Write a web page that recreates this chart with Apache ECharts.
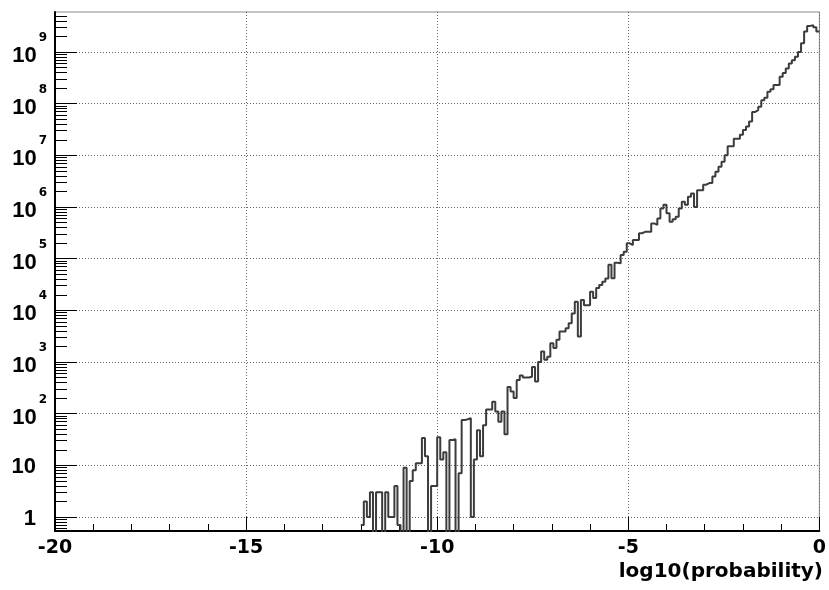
<!DOCTYPE html>
<html>
<head>
<meta charset="utf-8">
<script src="https://cdn.jsdelivr.net/npm/echarts@6/dist/echarts.min.js"></script>
<style>
  html, body { margin: 0; padding: 0; background: #fff; }
  #chart { width: 829px; height: 590px; }
</style>
</head>
<body>
<div id="chart"></div>
<script>
// histogram binning (log10 of probability)
var binStart = -12.0;
var binWidth = 0.08;

// bin contents, from -12.00 up to 0
var counts = [
  0.7, 2, 1, 3, 0, 3, 3, 0, 3, 1,
  1, 4, 0.7, 0, 9, 0, 5, 8, 11, 11,
  34, 15, 0, 4, 4, 35, 13, 18, 0, 31,
  32, 0, 7, 75, 78, 82, 1, 13, 48, 15,
  60, 120, 120, 170, 110, 70, 110, 40, 330, 270,
  200, 450, 550, 500, 500, 520, 800, 420, 1000, 1600,
  1100, 1260, 2300, 1860, 2700, 3900, 3900, 4500, 5600, 8700,
  14700, 3100, 15800, 12600, 12600, 23000, 17400, 27000, 31000, 35800,
  41500, 76000, 42000, 83000, 81000, 118000, 136000, 198000, 183000, 230000,
  230000, 310000, 330000, 330000, 330000, 480000, 450000, 600000, 940000, 1.1e6,
  760000, 520000, 580000, 650000, 940000, 1.26e6, 1.1e6, 1.58e6, 1.83e6, 1.0e6,
  2.1e6, 2.1e6, 2.7e6, 2.9e6, 2.9e6, 3.9e6, 4.8e6, 6.0e6, 7.5e6, 1.0e7,
  1.5e7, 1.5e7, 2.1e7, 2.1e7, 2.5e7, 3.1e7, 3.6e7, 4.5e7, 6.9e7, 7.5e7,
  8.7e7, 1.17e8, 1.3e8, 1.7e8, 1.9e8, 2.3e8, 2.3e8, 3.3e8, 3.9e8, 4.8e8,
  6.0e8, 6.9e8, 8.1e8, 1.0e9, 1.48e9, 2.5e9, 3.2e9, 3.3e9, 3.0e9, 2.5e9
];

// axes
var xMin = -20, xMax = 0, xStep = 5;
var yMin = 0.536, yMax = 5.94e9;
var yTicks = [1, 10, 1e2, 1e3, 1e4, 1e5, 1e6, 1e7, 1e8, 1e9];
var yMinorFactors = [2, 3, 4, 5, 6, 7, 8, 9];
var xTitle = 'log10(probability)';

// empty bins fall below the axis (ROOT draws them down off the frame)
var emptyFloor = 0.05;

var chart = echarts.init(document.getElementById('chart'));

var stepData = [];
for (var i = 0; i < counts.length; i++) {
  var x = Number((binStart + i * binWidth).toFixed(2));
  stepData.push([x, counts[i] > 0 ? counts[i] : emptyFloor]);
}
// close the last bin at its upper edge
stepData.push([xMax, counts[counts.length - 1]]);

var yMinor = [];
for (var d = 0.1; d < yMax; d *= 10) {
  yMinorFactors.forEach(function (f) {
    var v = f * d;
    if (v > yMin && v < yMax) yMinor.push(v);
  });
}

var dotted = { color: '#666', width: 1, type: [1, 2] };
var bold = { fontFamily: 'Liberation Sans', fontWeight: 'bold', color: '#000' };

var option = {
  animation: false,
  title: {
    text: xTitle,
    right: 6,
    top: 562,
    padding: 0,
    textStyle: { fontFamily: 'DejaVu Sans', fontWeight: 'bold', fontSize: 20, color: '#000' }
  },
  grid: {
    left: 55, right: 4, top: 12, bottom: 59,
    show: true, borderColor: '#888', borderWidth: 1
  },
  xAxis: {
    type: 'value',
    min: xMin, max: xMax, interval: xStep,
    axisLine: { onZero: false, lineStyle: { color: '#000', width: 2 } },
    axisTick: { inside: true, length: 14, lineStyle: { color: '#000', width: 1 } },
    minorTick: { show: true, splitNumber: 5, length: 7, lineStyle: { color: '#000', width: 1 } },
    axisLabel: {
      margin: 8, showMinLabel: true, showMaxLabel: true,
      fontFamily: 'DejaVu Sans', fontWeight: 'bold', fontSize: 19, color: '#000'
    },
    splitLine: { show: true, lineStyle: dotted }
  },
  yAxis: [
    {
      type: 'log', logBase: 10, min: yMin, max: yMax, position: 'left',
      axisLine: { onZero: false, lineStyle: { color: '#000', width: 2 } },
      axisTick: { inside: true, length: 22, customValues: yTicks, lineStyle: { color: '#000', width: 1 } },
      axisLabel: {
        customValues: yTicks,
        margin: 8,
        formatter: function (v) {
          var e = Math.round(Math.log10(v));
          if (e === 0) return '{p|1}';
          if (e === 1) return '{p|10}';
          return '{b|10}{s|' + e + '}';
        },
        rich: {
          p: Object.assign({ fontSize: 22, lineHeight: 22, padding: [4, 11, 0, 0] }, bold),
          b: Object.assign({ fontSize: 22, lineHeight: 22, padding: [4, 0, 0, 0], verticalAlign: 'top' }, bold),
          s: { fontFamily: 'DejaVu Sans', fontWeight: 'bold', color: '#000', fontSize: 12, lineHeight: 12,
               padding: [0, 0, 19, 2], verticalAlign: 'bottom' }
        }
      },
      splitLine: { show: true, lineStyle: dotted }
    },
    {
      type: 'log', logBase: 10, min: yMin, max: yMax, position: 'left',
      axisLine: { show: false, onZero: false },
      axisTick: { inside: true, length: 12, customValues: yMinor, lineStyle: { color: '#000', width: 1 } },
      axisLabel: { show: false },
      splitLine: { show: false }
    }
  ],
  series: [
    {
      name: 'entries',
      type: 'line',
      step: 'end',
      yAxisIndex: 0,
      data: stepData,
      symbol: 'none',
      clip: true,
      z: 3,
      lineStyle: { color: '#3c3c3c', width: 2 }
    }
  ]
};

chart.setOption(option);
</script>
</body>
</html>
